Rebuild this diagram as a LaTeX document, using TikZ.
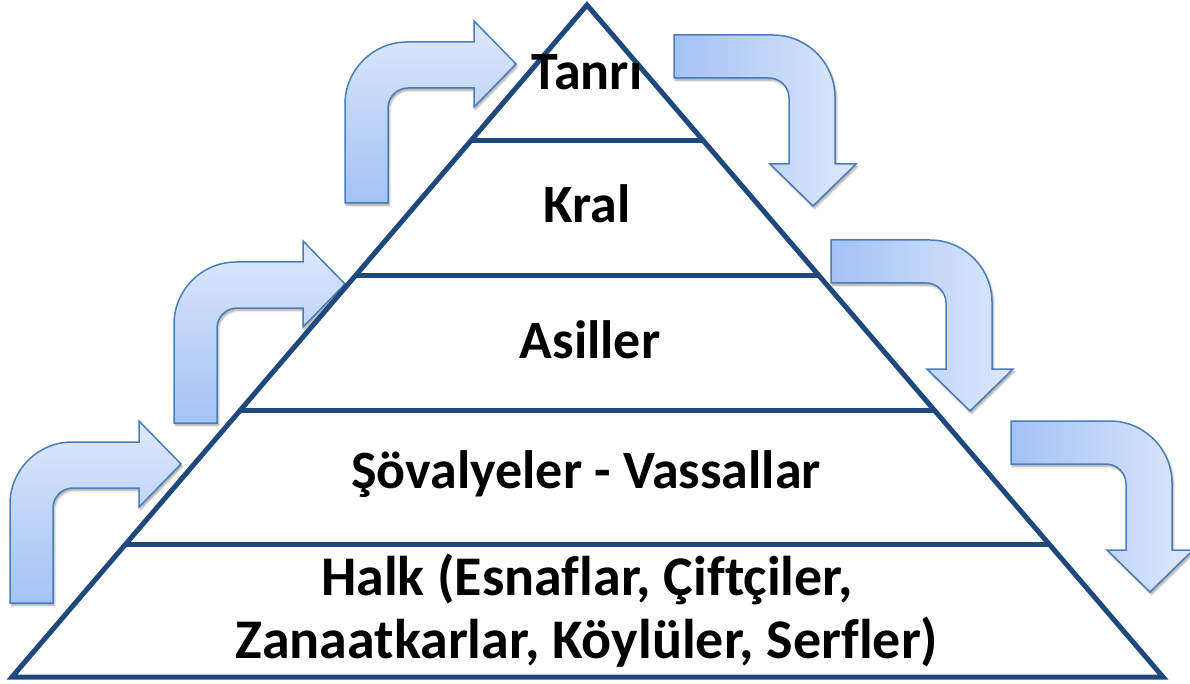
\documentclass[tikz,border=0pt]{standalone}
\usepackage{fontspec}
\setmainfont{Carlito}[Ligatures=NoCommon]
\usetikzlibrary{calc,shadows.blur}
\definecolor{pyrline}{RGB}{31,73,125}
\definecolor{arrlight}{RGB}{222,232,251}
\definecolor{arrdark}{RGB}{163,194,245}
\definecolor{arredge}{RGB}{74,126,187}
\tikzset{
  pyr/.style={draw=pyrline, line width=5pt, line join=miter},
  arrowbase/.style={draw=arredge, line width=1.5pt, line join=miter,
     blur shadow={shadow blur steps=6, shadow xshift=1.5pt, shadow yshift=-2.5pt, shadow opacity=35}},
  lbl/.style={anchor=base, inner sep=0pt, font=\bfseries\fontsize{54}{63}\selectfont, text=black, align=center},
  lblbig/.style={lbl, font=\bfseries\fontsize{56}{63}\selectfont},
  uparrow/.pic={
    \path[arrowbase, top color=arrlight, bottom color=arrdark]
      (0,0) -- (43,0) -- (43,-95) .. controls (43,-106) and (52,-115) .. (63,-115)
      -- (129,-115) -- (129,-96) -- (171,-139) -- (129,-182) -- (129,-161)
      -- (62,-161) .. controls (28,-161) and (0,-133) .. (0,-99) -- cycle;
  },
  downarrow/.pic={
    \path[arrowbase, left color=arrdark, right color=arrlight]
      (0,0) -- (0,43) -- (95,43) .. controls (106,43) and (115,52) .. (115,63)
      -- (115,129) -- (96,129) -- (139,171) -- (182,129) -- (161,129)
      -- (161,62) .. controls (161,28) and (133,0) .. (99,0) -- cycle;
  }
}
\begin{document}
\begin{tikzpicture}[x=1pt,y=-1pt]
\useasboundingbox (0,0) rectangle (1190,684);
\clip (0,0) rectangle (1190,684);
% arrows
\pic (a1) at (345,203) {uparrow};
\pic (a2) at (174,423) {uparrow};
\pic (a3) at (10,603) {uparrow};
\pic (r1) at (674,35) {downarrow};
\pic (r2) at (831,240) {downarrow};
\pic (r3) at (1011,421) {downarrow};
% pyramid
\coordinate (apex) at (587,5);
\coordinate (bl) at (12,677);
\coordinate (br) at (1163,677);
\draw[pyr] (apex) -- (br) -- (bl) -- cycle;
\foreach \t/\n in {0.2009/1,0.4018/2,0.6027/3,0.8021/4}{
  \coordinate (l\n) at ($(apex)!\t!(bl)$);
  \coordinate (r\n) at ($(apex)!\t!(br)$);
  \draw[pyr] (l\n) -- (r\n);
}
% labels
\node[lbl] (tanri) at (587,90) {Tanrı};
\node[lbl] (kral) at (587,223) {Kral};
\node[lbl] (asiller) at (590,358) {Asiller};
\node[lbl] (sov) at (586,488) {Şövalyeler - Vassallar};
\node[lblbig] (halk1) at (587,595) {Halk (Esnaflar, Çiftçiler,};
\node[lblbig] (halk2) at (587,658) {Zanaatkarlar, Köylüler, Serfler)};
\end{tikzpicture}
\end{document}
